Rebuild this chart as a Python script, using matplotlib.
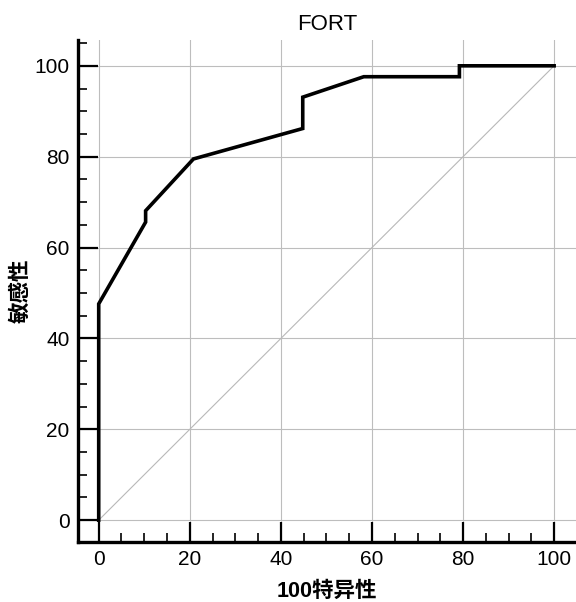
import numpy as np
import matplotlib.pyplot as plt
from matplotlib.ticker import MultipleLocator

plt.rcParams['font.family'] = ['Liberation Sans', 'Noto Sans CJK SC', 'DejaVu Sans']

# ROC 曲线数据
spec_100 = [0, 0, 10.3, 10.3, 20.8, 44.8, 44.8, 58.2, 79.2, 79.2, 100]
sens = [0, 47.6, 65.6, 68.1, 79.5, 86.2, 93.1, 97.6, 97.6, 100, 100]
diag = [0, 100]

fig = plt.figure(figsize=(5.76, 6.02), dpi=100)
ax = fig.add_axes([0.135, 0.0997, 0.865, 0.834])

ax.plot(diag, diag, color='#b8b8b8', linewidth=0.8, zorder=2)
ax.plot(spec_100, sens, color='black', linewidth=2.6, zorder=3,
        solid_joinstyle='miter', clip_on=False)

ax.set_xlim(-4.6, 104.8)
ax.set_ylim(-4.8, 105.7)

ax.xaxis.set_major_locator(MultipleLocator(20))
ax.xaxis.set_minor_locator(MultipleLocator(5))
ax.yaxis.set_major_locator(MultipleLocator(20))
ax.yaxis.set_minor_locator(MultipleLocator(5))

ax.grid(True, which='major', color='#bdbdbd', linewidth=0.8, zorder=1)

ax.spines['top'].set_visible(False)
ax.spines['right'].set_visible(False)
ax.spines['left'].set_linewidth(2.4)
ax.spines['bottom'].set_linewidth(2.4)

ax.tick_params(which='major', direction='in', length=14.5, width=1.6,
               labelsize=15, pad=6)
ax.tick_params(which='minor', direction='in', length=6.5, width=1.2)

ax.set_title('FORT', fontsize=16, pad=7)
ax.set_xlabel('100特异性', fontsize=15.5, fontweight='bold', labelpad=8)
ax.set_ylabel('敏感性', fontsize=15.5, fontweight='bold', labelpad=2)

fig.savefig('out.png', dpi=100)
